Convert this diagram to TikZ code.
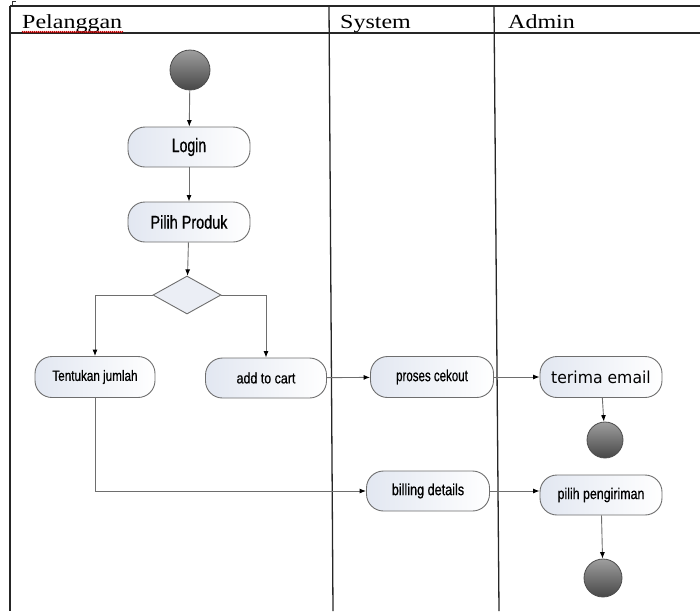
\documentclass[tikz,border=0pt]{standalone}
\usepackage{fontspec}
\setmainfont{Liberation Serif}
\newfontfamily\actfont[FakeBold=0.7]{Liberation Sans}
\newfontfamily\widefont{DejaVu Sans}
\usetikzlibrary{arrows.meta,shapes.geometric,decorations.pathmorphing}
\definecolor{actblue}{HTML}{E2E7F1}
\definecolor{linegray}{HTML}{6E6E6E}
% label text: size, horizontal squeeze, text
\newcommand\actlabel[3]{\fontsize{#1}{#1}\selectfont\scalebox{#2}[1]{#3}}

\begin{document}
\begin{tikzpicture}[x=1pt,y=-1pt,
  frame/.style={line width=1.3pt,black!85},
  action/.style={draw=linegray,line width=0.9pt,rounded corners=17pt,
    minimum width=122pt,minimum height=40pt,inner sep=0pt,
    left color=actblue,right color=white,font=\actfont},
  ball/.style={circle,draw=black!70,line width=0.8pt,minimum size=#1,
    inner sep=0pt,top color=black!38,bottom color=black!72},
  decision/.style={diamond,draw=linegray,line width=0.9pt,fill=actblue!70!white,
    minimum width=68pt,minimum height=38pt,inner sep=0pt},
  flow/.style={draw=linegray,line width=0.9pt,-{Latex[length=6.5pt,width=5pt,color=black]}},
  lane/.style={anchor=base west,inner sep=0pt}
]
\useasboundingbox (0,0) rectangle (700,611);

% swimlane frame
\draw[frame] (10,6) -- (10,611);
\draw[line width=0.8pt,black!80] (12,6) -- (12,1) -- (16,1);
\draw[frame] (10,6) -- (700,6);
\draw[frame] (10,33) -- (700,33);
\draw[frame] (329,6) -- (333,611);
\draw[frame] (494,6) -- (499,611);

% lane headings
\node[lane] (hp) at (22,28) {\actlabel{20}{1.2}{Pelanggan}};
\node[lane] (hs) at (340,28) {\actlabel{20}{1.2}{System}};
\node[lane] (ha) at (508,28) {\actlabel{20}{1.2}{Admin}};
\draw[red!80!black,line width=0.6pt,decorate,
  decoration={zigzag,amplitude=0.7pt,segment length=2pt}] (22,32) -- (123,32);

% activities
\node[ball=40pt] (start) at (190,70) {};
\node[action] (login) at (189,147) {\actlabel{19.5}{0.72}{Login}};
\node[action] (produk) at (189,222) {\actlabel{18.5}{0.78}{Pilih Produk}};
\node[decision] (dec) at (187,295) {};
\node[action,minimum width=120pt,minimum height=41pt] (jumlah) at (95,377) {\actlabel{15}{0.78}{Tentukan jumlah}};
\node[action,minimum width=121pt] (cart) at (266,378) {\actlabel{15}{0.83}{add to cart}};
\node[action,minimum width=123pt,minimum height=41pt] (cekout) at (432,377) {\actlabel{16}{0.72}{proses cekout}};
\node[action,minimum height=41pt] (email) at (601,377) {\widefont\actlabel{16.5}{0.95}{terima email}};
\node[ball=36pt] (end1) at (605,440) {};
\node[action,minimum width=123pt] (billing) at (428,491) {\actlabel{16}{0.79}{billing details}};
\node[action] (kirim) at (601,495) {\actlabel{15.5}{0.8}{pilih pengiriman}};
\node[ball=38pt] (end2) at (603,578) {};

% control flow
\draw[flow] (start) -- (login);
\draw[flow] (login) -- (produk);
\draw[flow] (produk) -- (dec);
\draw[flow] (dec.west) -| (jumlah.north);
\draw[flow] (dec.east) -| (cart.north);
\draw[flow] (cart) -- (cekout);
\draw[flow] (cekout) -- (email);
\draw[flow] (email) -- (end1);
\draw[flow] (jumlah.south) |- (billing.west);
\draw[flow] (billing) -- (kirim.west |- billing);
\draw[flow] (kirim) -- (end2);
\end{tikzpicture}
\end{document}
